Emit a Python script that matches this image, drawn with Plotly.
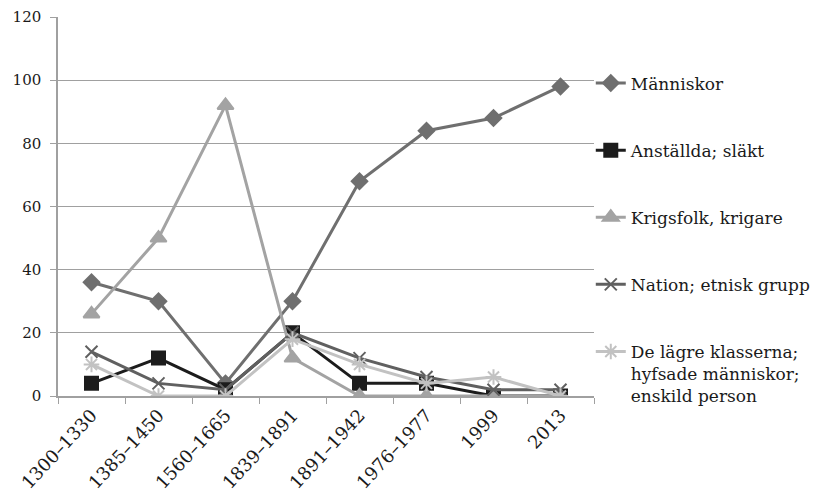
import plotly.graph_objects as go

periods = ["1300–1330", "1385–1450", "1560–1665", "1839–1891",
           "1891–1942", "1976–1977", "1999", "2013"]

manniskor = [36, 30, 4, 30, 68, 84, 88, 98]
anstallda = [4, 12, 2, 20, 4, 4, 0, 0]
krigsfolk = [26, 50, 92, 12, 0, 0, 0, 0]
nation = [14, 4, 2, 20, 12, 6, 2, 2]
lagre = [10, 0, 0, 18, 10, 4, 6, 0]

FONT = "DejaVu Serif"

series = [
    ("Människor", manniskor, "#6f6f6f", "diamond", 12),
    ("Anställda; släkt", anstallda, "#1c1c1c", "square", 13),
    ("Krigsfolk, krigare", krigsfolk, "#a3a3a3", "triangle-up", 14),
    ("Nation; etnisk grupp", nation, "#606060", "x-thin-open", 12),
    ("De lägre klasserna;<br>hyfsade människor;<br>enskild person", lagre, "#c2c2c2", "asterisk-open", 13),
]

fig = go.Figure()
for i, (name, vals, color, symbol, size) in enumerate(series):
    fig.add_trace(go.Scatter(
        x=periods, y=vals, name=name, mode="lines+markers",
        legendgroup=f"g{i}",
        line=dict(color=color, width=3),
        marker=dict(symbol=symbol, size=size, color=color,
                    line=dict(color=color, width=2)),
    ))

# page body has an 8px margin, so the figure is shrunk by that much
fig.update_layout(
    width=818, height=486,
    margin=dict(l=50, r=232, t=9, b=98, autoexpand=False),
    paper_bgcolor="white", plot_bgcolor="white",
    font=dict(family=FONT, size=16, color="#1a1a1a"),
    legend=dict(x=0.994, xanchor="left", y=0.872, yanchor="top",
                valign="top", tracegroupgap=42,
                font=dict(family=FONT, size=17, color="#1a1a1a"),
                bgcolor="rgba(0,0,0,0)"),
)
fig.update_xaxes(
    type="category", tickangle=-47, tickson="boundaries",
    ticks="outside", ticklen=6, tickcolor="#a0a0a0",
    showline=True, linecolor="#a0a0a0", linewidth=1.5,
    showgrid=False, range=[-0.5, 7.5], automargin=False,
    tickfont=dict(family=FONT, size=18),
)
fig.update_yaxes(
    range=[0, 120], dtick=20, ticks="outside", ticklen=6,
    tickcolor="#a0a0a0", showline=True, linecolor="#a0a0a0", linewidth=1.5,
    showgrid=True, gridcolor="#a0a0a0", gridwidth=1.2, zeroline=False,
    automargin=False, ticklabeloverflow="allow", ticklabelstandoff=6,
    tickfont=dict(family=FONT, size=15),
)

fig.write_html("out.html")
